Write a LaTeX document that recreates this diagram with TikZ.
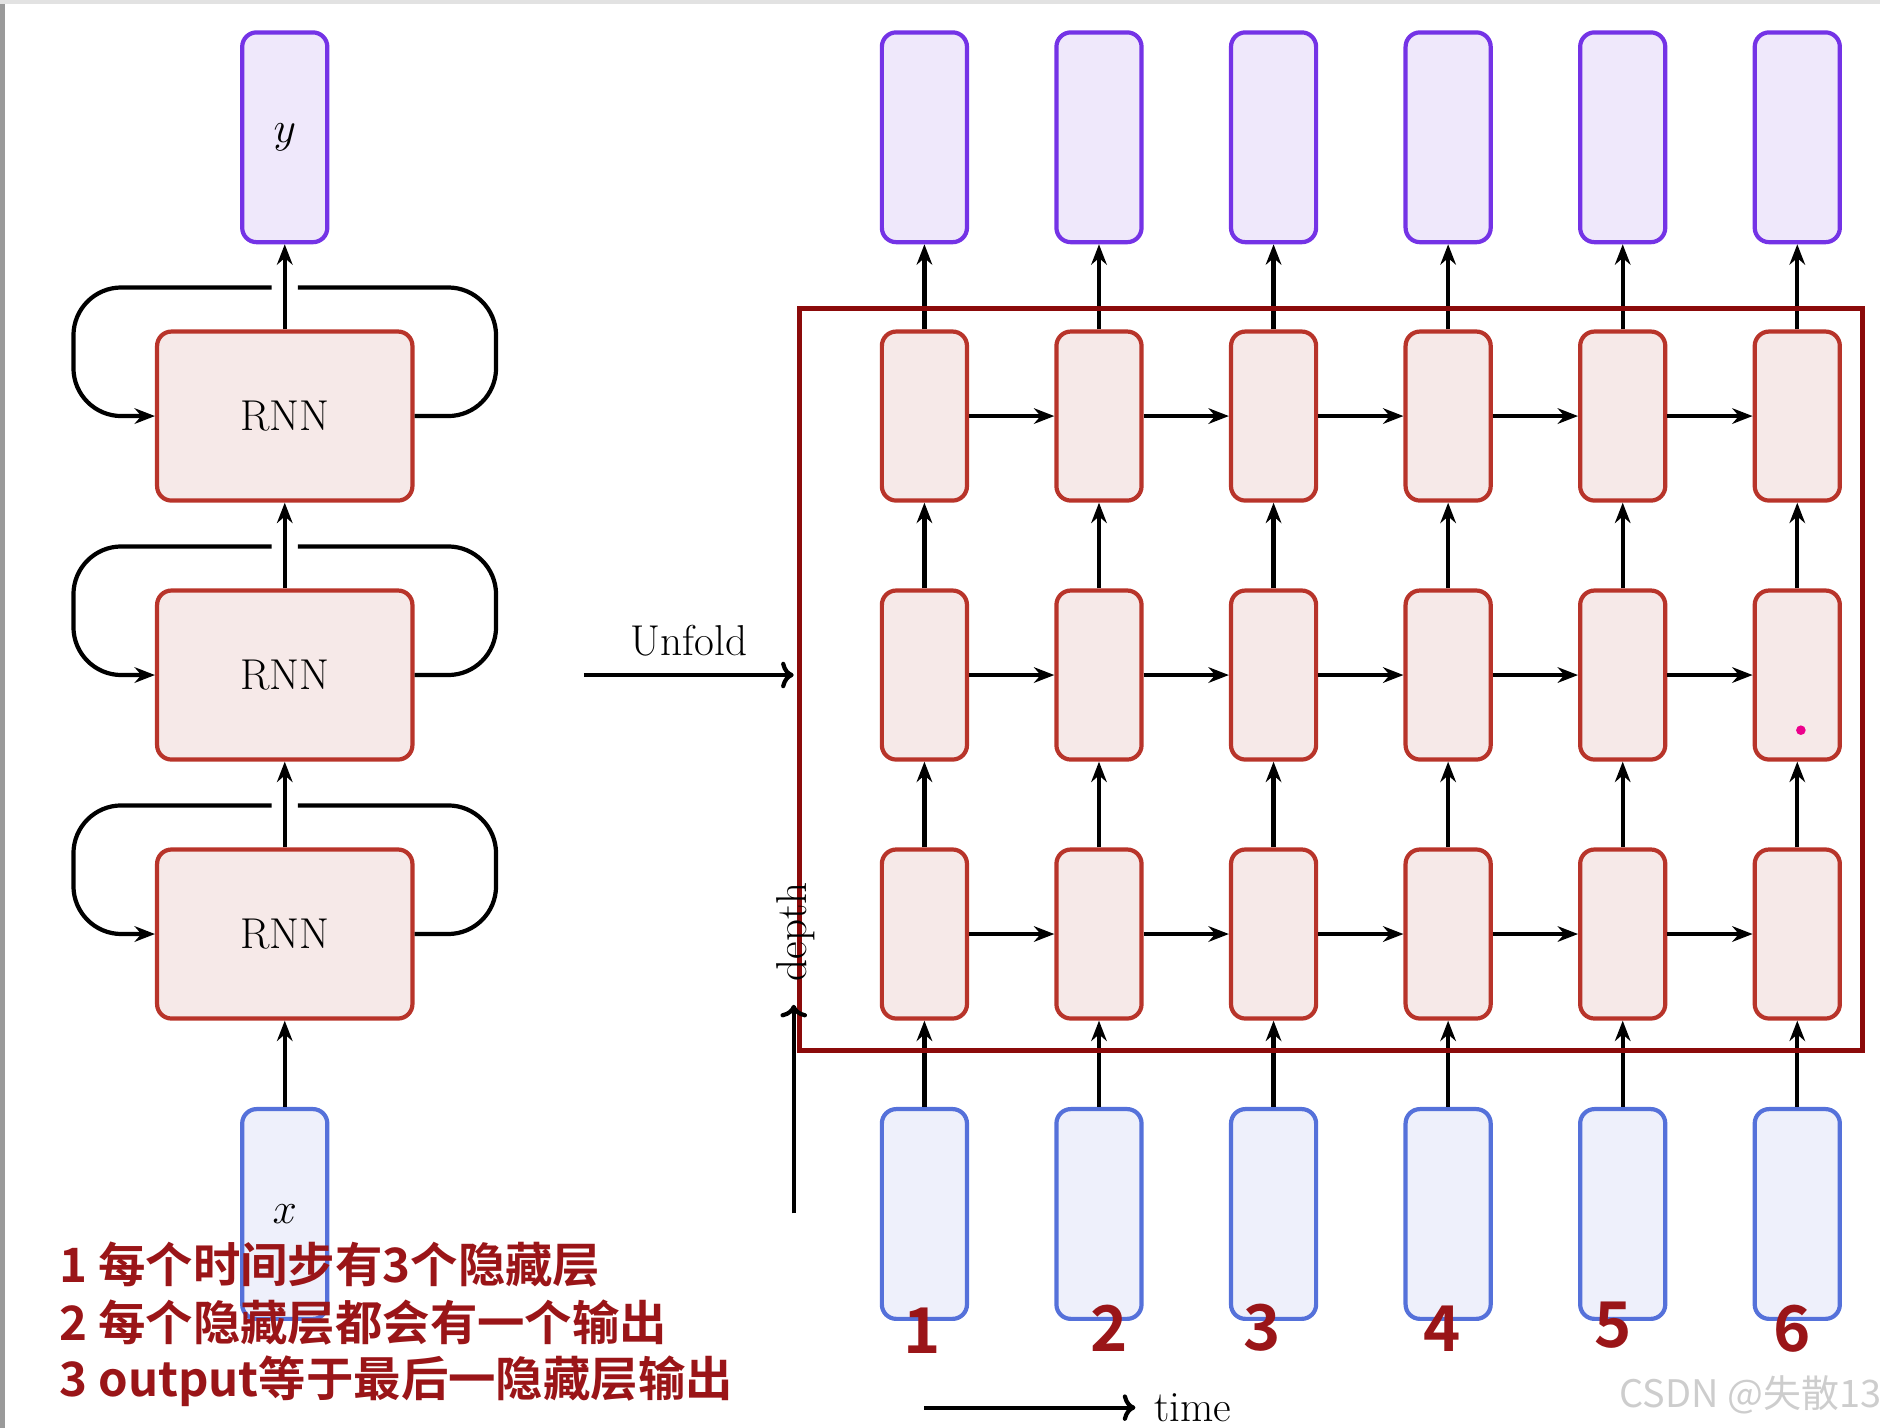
\documentclass[tikz,border=0pt]{standalone}
\usepackage{fontspec}
\newfontfamily\cjk{Noto Sans CJK SC}[BoldFont={Noto Sans CJK SC Bold}]
\usetikzlibrary{positioning,calc,arrows.meta}

\definecolor{rnnline}{HTML}{B8342A}
\definecolor{rnnfill}{HTML}{F6E9E8}
\definecolor{outline}{HTML}{7433E6}
\definecolor{outfill}{HTML}{EFE8FB}
\definecolor{inline}{HTML}{5571DA}
\definecolor{infill}{HTML}{EEF0FB}
\definecolor{framered}{HTML}{8B0A0A}
\definecolor{notered}{HTML}{9A1518}
\definecolor{markgray}{HTML}{CDCDCD}
\definecolor{edgegray}{HTML}{9A9A9A}
\definecolor{topgray}{HTML}{E2E2E2}

\begin{document}
\begin{tikzpicture}[x=0.02cm, y=-0.02cm, line width=2pt, >=To]
	\useasboundingbox (0,0) rectangle (1568,1191);
	\fill[edgegray] (0,0) rectangle (4,1191);
	\fill[topgray] (0,0) rectangle (1568,3);

	\tikzstyle{every node}=[font=\fontsize{20.5}{24}\selectfont]
	\tikzstyle{cell}=[draw=rnnline, fill=rnnfill, rounded corners=0.24cm, inner sep=0pt, minimum width=1.42cm, minimum height=2.82cm]
	\tikzstyle{bigcell}=[cell, minimum width=4.26cm]
	\tikzstyle{outbox}=[draw=outline, fill=outfill, rounded corners=0.24cm, inner sep=0pt, minimum width=1.42cm, minimum height=3.5cm]
	\tikzstyle{inbox}=[outbox, draw=inline, fill=infill]
	\tikzstyle{flow}=[-{Stealth[length=0.34cm, width=0.26cm]}]

	% folded network
	\begin{scope}
		\node[outbox] (y) at (237.5, 114.5) {$y$};
		\node[bigcell] (rnnc) at (237.5, 347) {RNN};
		\node[bigcell] (rnnb) at (237.5, 563) {RNN};
		\node[bigcell] (rnna) at (237.5, 779) {RNN};
		\node[inbox] (x) at (237.5, 1012.5) {$x$};

		\draw[flow] (x) to (rnna);
		\draw[flow] (rnna) to (rnnb);
		\draw[flow] (rnnb) to (rnnc);
		\draw[flow] (rnnc) to (y);

		\foreach \r in {rnna, rnnb, rnnc} {
			\draw[flow, rounded corners=0.8cm] ($(\r.north)+(-11,-35)$) -| ($(\r.west)+(-68,0)$) -- (\r.west);
			\draw[rounded corners=0.8cm] (\r.east) -- ($(\r.east)+(68,0)$) |- ($(\r.north)+(11,-35)$);
		}
	\end{scope}

	\coordinate (u0) at (487, 563);
	\coordinate (u1) at (662, 563);
	\draw[->] (u0) -- node[above, inner sep=8pt] (unfold) {Unfold} (u1);

	% unfolded network
	\begin{scope}
		\foreach \i in {1,...,6} {
			\pgfmathsetmacro\cx{771+(\i-1)*145.6}
			\node[outbox] (out\i) at (\cx, 114.5) {};
			\node[cell] (top\i) at (\cx, 347) {};
			\node[cell] (mid\i) at (\cx, 563) {};
			\node[cell] (bot\i) at (\cx, 779) {};
			\node[inbox] (in\i) at (\cx, 1012.5) {};
		}
		\foreach \i in {1,...,6} {
			\draw[flow] (in\i) to (bot\i);
			\draw[flow] (bot\i) to (mid\i);
			\draw[flow] (mid\i) to (top\i);
			\draw[flow] (top\i) to (out\i);
		}
		\foreach \i [evaluate=\i as \j using int(\i+1)] in {1,...,5} {
			\draw[flow] (bot\i) to (bot\j);
			\draw[flow] (mid\i) to (mid\j);
			\draw[flow] (top\i) to (top\j);
		}
		\draw[framered, line width=2.4pt] (667, 257) rectangle (1553, 876);
		\fill[magenta] (1502, 609) circle (0.08cm);
	\end{scope}

	\coordinate (d0) at (662, 1012);
	\coordinate (d1) at (662, 838);
	\draw[->] (d0) -- (d1);
	\node[rotate=90] (depth) at (664, 777) {depth};

	\coordinate (t0) at (771, 1174);
	\coordinate (t1) at (947, 1174);
	\draw[->] (t0) -- (t1) node[right, inner sep=8pt] (time) {time};

	% step numbers
	\tikzstyle{stepnum}=[text=notered, font=\cjk\bfseries\fontsize{30}{30}\selectfont]
	\node[stepnum] (n1) at (769, 1110) {1};
	\node[stepnum] (n2) at (925, 1108) {2};
	\node[stepnum] (n3) at (1053, 1107) {3};
	\node[stepnum] (n4) at (1203, 1108) {4};
	\node[stepnum] (n5) at (1345, 1105) {5};
	\node[stepnum] (n6) at (1495, 1108) {6};

	% notes
	\tikzstyle{note}=[anchor=west, inner sep=0pt, text=notered, font=\cjk\bfseries\fontsize{22.5}{26}\selectfont]
	\node[note] (note1) at (48, 1055) {1 每个时间步有3个隐藏层};
	\node[note] (note2) at (48, 1103) {2 每个隐藏层都会有一个输出};
	\node[note] (note3) at (48, 1152) {3 output等于最后一隐藏层输出};

	\node[text=markgray, font=\cjk\fontsize{18}{20}\selectfont] (mark) at (1460, 1163) {CSDN @失散13};
\end{tikzpicture}
\end{document}
